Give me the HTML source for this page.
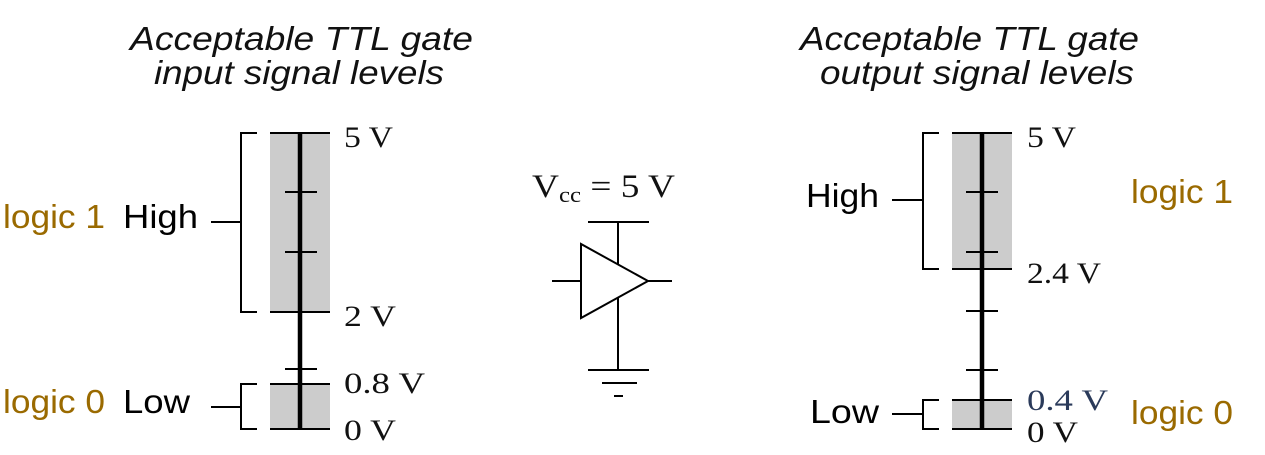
<!DOCTYPE html>
<html><head><meta charset="utf-8"><style>html,body{margin:0;padding:0;background:#fff}svg{display:block}</style></head><body>
<svg width="1265" height="455" viewBox="0 0 1265 455" xmlns="http://www.w3.org/2000/svg">
<g font-family="Liberation Sans, sans-serif" font-style="italic" font-size="33" fill="#111">
<text x="130" y="50" textLength="343" lengthAdjust="spacingAndGlyphs">Acceptable TTL gate</text>
<text x="154" y="84" textLength="290" lengthAdjust="spacingAndGlyphs">input signal levels</text>
<text x="800" y="50" textLength="339" lengthAdjust="spacingAndGlyphs">Acceptable TTL gate</text>
<text x="820" y="84" textLength="314" lengthAdjust="spacingAndGlyphs">output signal levels</text>
</g>
<!-- left scale -->
<rect x="270" y="133" width="60" height="179" fill="#cccccc"/>
<rect x="270" y="384" width="60" height="45" fill="#cccccc"/>
<g stroke="#000" fill="none">
<line x1="300" y1="133" x2="300" y2="429" stroke-width="4.5"/>
<g stroke-width="2">
<line x1="270" y1="133" x2="330" y2="133"/><line x1="270" y1="312" x2="330" y2="312"/>
<line x1="270" y1="384" x2="330" y2="384"/><line x1="270" y1="429" x2="330" y2="429"/>
<line x1="285" y1="192" x2="317" y2="192"/><line x1="285" y1="252" x2="317" y2="252"/>
<line x1="285" y1="369" x2="317" y2="369"/>
<polyline points="257,133 241,133 241,312 257,312"/><line x1="211" y1="222" x2="241" y2="222"/>
<polyline points="257,384 241,384 241,429 257,429"/><line x1="211" y1="407" x2="241" y2="407"/>
</g></g>
<!-- right scale -->
<rect x="952" y="133" width="60" height="136" fill="#cccccc"/>
<rect x="952" y="400" width="60" height="29" fill="#cccccc"/>
<g stroke="#000" fill="none">
<line x1="982" y1="133" x2="982" y2="429" stroke-width="4.5"/>
<g stroke-width="2">
<line x1="952" y1="133" x2="1012" y2="133"/><line x1="952" y1="269" x2="1012" y2="269"/>
<line x1="952" y1="400" x2="1012" y2="400"/><line x1="952" y1="429" x2="1012" y2="429"/>
<line x1="966" y1="192" x2="998" y2="192"/><line x1="966" y1="252" x2="998" y2="252"/>
<line x1="966" y1="311" x2="998" y2="311"/><line x1="966" y1="370" x2="998" y2="370"/>
<polyline points="939,133 923,133 923,269 939,269"/><line x1="892" y1="200" x2="923" y2="200"/>
<polyline points="939,400 923,400 923,429 939,429"/><line x1="892" y1="414" x2="923" y2="414"/>
</g></g>
<!-- gate -->
<g stroke="#000" fill="none" stroke-width="2">
<line x1="588" y1="222" x2="649" y2="222"/>
<line x1="618" y1="222" x2="618" y2="370"/>
<polygon points="581,244 581,318 648,281" fill="#fff"/>
<line x1="552" y1="281" x2="581" y2="281"/><line x1="648" y1="281" x2="672" y2="281"/>
<line x1="588" y1="370" x2="649" y2="370"/>
<line x1="602" y1="383" x2="637" y2="383"/>
<line x1="614" y1="396" x2="623" y2="396"/>
</g>
<g font-family="Liberation Serif, serif" font-size="30" fill="#111">
<text x="532" y="197" font-size="33" textLength="143" lengthAdjust="spacingAndGlyphs">V<tspan font-size="22" dy="5">cc</tspan><tspan dy="-5"> = 5 V</tspan></text>
<text x="344" y="147" textLength="49" lengthAdjust="spacingAndGlyphs">5 V</text>
<text x="344" y="326" textLength="52" lengthAdjust="spacingAndGlyphs">2 V</text>
<text x="344" y="393" textLength="81" lengthAdjust="spacingAndGlyphs">0.8 V</text>
<text x="344" y="440" textLength="52" lengthAdjust="spacingAndGlyphs">0 V</text>
<text x="1027" y="147" textLength="49" lengthAdjust="spacingAndGlyphs">5 V</text>
<text x="1027" y="283" textLength="74" lengthAdjust="spacingAndGlyphs">2.4 V</text>
<text x="1027" y="410" textLength="81" lengthAdjust="spacingAndGlyphs" fill="#2a3a5a">0.4 V</text>
<text x="1027" y="442" textLength="51" lengthAdjust="spacingAndGlyphs">0 V</text>
</g>
<g font-family="Liberation Sans, sans-serif" font-size="33">
<text x="3" y="228" fill="#9a6a00" textLength="102" lengthAdjust="spacingAndGlyphs">logic 1</text>
<text x="3" y="413" fill="#9a6a00" textLength="102" lengthAdjust="spacingAndGlyphs">logic 0</text>
<text x="1131" y="203" fill="#9a6a00" textLength="102" lengthAdjust="spacingAndGlyphs">logic 1</text>
<text x="1131" y="424" fill="#9a6a00" textLength="102" lengthAdjust="spacingAndGlyphs">logic 0</text>
<text x="123" y="228" fill="#000" textLength="75" lengthAdjust="spacingAndGlyphs">High</text>
<text x="123" y="413" fill="#000" textLength="67" lengthAdjust="spacingAndGlyphs">Low</text>
<text x="806" y="207" fill="#000" textLength="73" lengthAdjust="spacingAndGlyphs">High</text>
<text x="810" y="423" fill="#000" textLength="69" lengthAdjust="spacingAndGlyphs">Low</text>
</g>
</svg>
</body></html>
